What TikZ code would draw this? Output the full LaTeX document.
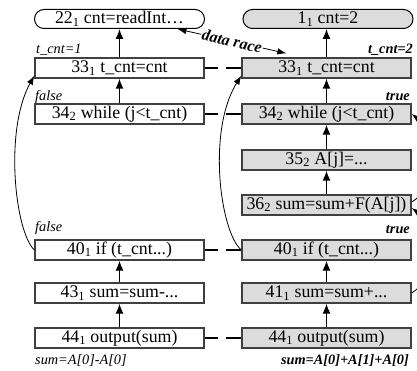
\documentclass[tikz,border=0pt]{standalone}
\usepackage{fontspec}
\setmainfont{Liberation Serif}
\usetikzlibrary{shapes.misc,arrows.meta,calc}
\definecolor{boxgray}{HTML}{DCDCDC}
\definecolor{edgegray}{HTML}{404040}
\begin{document}
\begin{tikzpicture}[x=1pt,y=-1pt,
  stmt/.style={draw=edgegray, line width=1.3pt, minimum width=169pt, minimum height=20pt, inner sep=0pt, font=\fontsize{17.8}{18}\selectfont},
  shaded/.style={stmt, fill=boxgray},
  rbox/.style={rounded rectangle, draw=black, line width=1pt, minimum width=170pt, minimum height=19pt, inner sep=0pt, font=\fontsize{17.8}{18}\selectfont},
  lab/.style={inner sep=0pt, font=\fontsize{14.3}{15}\selectfont\itshape},
  blab/.style={inner sep=0pt, font=\fontsize{14.3}{15}\selectfont\bfseries\itshape},
  racelab/.style={inner sep=1pt, fill=white, font=\fontsize{16}{16}\selectfont\bfseries\itshape},
  varrow/.style={line width=1.3pt, -{Latex[length=10pt,width=8pt]}},
  loop/.style={line width=0.8pt, -{Latex[length=9pt,width=6.5pt]}},
  dashlink/.style={line width=1.3pt, dash pattern=on 15pt off 8pt}
]
\useasboundingbox (0,0) rectangle (417,371);

% left column
\node[rbox, fill=white] (l22) at (119.5,19) {22\textsubscript{1} cnt=readInt…};
\node[stmt] (l33) at (119.5,68) {33\textsubscript{1} t\_cnt=cnt};
\node[stmt] (l34) at (119.5,114) {34\textsubscript{2} while (j<t\_cnt)};
\node[stmt] (l40) at (119.5,250) {40\textsubscript{1} if (t\_cnt...)};
\node[stmt] (l43) at (119.5,293) {43\textsubscript{1} sum=sum-...};
\node[stmt] (l44) at (119.5,338) {44\textsubscript{1} output(sum)};

% right column
\node[rbox, fill=boxgray] (r1) at (328,19) {1\textsubscript{1} cnt=2};
\node[shaded] (s33) at (326.5,68) {33\textsubscript{1} t\_cnt=cnt};
\node[shaded] (s34) at (326.5,114) {34\textsubscript{2} while (j<t\_cnt)};
\node[shaded] (s35) at (326.5,160) {35\textsubscript{2} A[j]=...};
\node[shaded] (s36) at (326.5,205) {36\textsubscript{2} sum=sum+F(A[j])};
\node[shaded] (s40) at (326.5,250) {40\textsubscript{1} if (t\_cnt...)};
\node[shaded] (s41) at (326.5,293) {41\textsubscript{1} sum=sum+...};
\node[shaded] (s44) at (326.5,338) {44\textsubscript{1} output(sum)};

% labels
\node[lab, anchor=west] (tl) at (36,50) {t\_cnt=1};
\node[lab, anchor=west] (f1) at (35,97) {false};
\node[lab, anchor=west] (f2) at (35,228) {false};
\node[lab, anchor=west] (sl) at (35,360) {sum=A[0]-A[0]};
\node[blab, anchor=east] (tr) at (413,50) {t\_cnt=2};
\node[blab, anchor=east] (t1) at (410,97) {true};
\node[blab, anchor=east] (t2) at (410,230) {true};
\node[blab, anchor=east] (sr) at (409,360) {sum=A[0]+A[1]+A[0]};

% vertical arrows left
\draw[varrow] (l33.north) -- (l22.south);
\draw[varrow] (l34.north) -- (l33.south);
\draw[varrow] (l43.north) -- (l40.south);
\draw[varrow] (l44.north) -- (l43.south);

% vertical arrows right
\draw[varrow] (s33.north) -- (s33.north |- r1.south);
\draw[varrow] (s34.north) -- (s33.south);
\draw[varrow] (s35.north) -- (s34.south);
\draw[varrow] (s36.north) -- (s35.south);
\draw[varrow] (s41.north) -- (s40.south);
\draw[varrow] (s44.north) -- (s41.south);

% dashed links
\draw[dashlink] (s33.west) -- (l33.east);
\draw[dashlink] (s34.west) -- (l34.east);
\draw[dashlink] (s40.west) -- (l40.east);
\draw[dashlink] (s44.west) -- (l44.east);

% back loops
\draw[loop] (l40.west) .. controls (15,232) and (4,130) .. ([yshift=3pt]l33.south west);
\draw[loop] (s40.west) .. controls (220,232) and (207,130) .. ([yshift=3pt]s33.south west);
\draw[loop] ([yshift=3pt]s36.east) .. controls (440,185) and (440,135) .. (s34.east);
\draw[loop] (s41.east) .. controls (440,275) and (440,228) .. ([yshift=-3pt]s36.east);

% data race
\draw[line width=0.8pt, {Latex[length=9pt,width=6.5pt]}-{Latex[length=9pt,width=6.5pt]}]
  ([xshift=58pt]l22.south) -- node[sloped, racelab] (dr) {data race}
  ([xshift=45pt,yshift=4pt]s33.north west);
\end{tikzpicture}
\end{document}
